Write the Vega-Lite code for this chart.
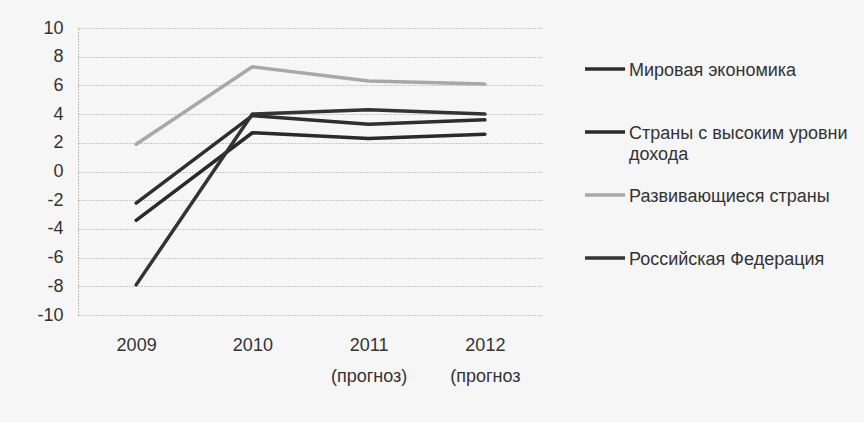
{
  "$schema": "https://vega.github.io/schema/vega-lite/v6.json",
  "autosize": "none",
  "width": 465,
  "height": 287,
  "padding": {"left": 78, "top": 28, "right": 321, "bottom": 107},
  "background": "#f6f6f6",
  "data": {
    "values": [
      {"period": "2009", "series": "Мировая экономика", "value": -2.2},
      {"period": "2010", "series": "Мировая экономика", "value": 3.9},
      {"period": "2011 (прогноз)", "series": "Мировая экономика", "value": 3.3},
      {"period": "2012 (прогноз", "series": "Мировая экономика", "value": 3.6},
      {"period": "2009", "series": "Страны с высоким уровни дохода", "value": -3.4},
      {"period": "2010", "series": "Страны с высоким уровни дохода", "value": 2.7},
      {"period": "2011 (прогноз)", "series": "Страны с высоким уровни дохода", "value": 2.3},
      {"period": "2012 (прогноз", "series": "Страны с высоким уровни дохода", "value": 2.6},
      {"period": "2009", "series": "Развивающиеся страны", "value": 1.9},
      {"period": "2010", "series": "Развивающиеся страны", "value": 7.3},
      {"period": "2011 (прогноз)", "series": "Развивающиеся страны", "value": 6.3},
      {"period": "2012 (прогноз", "series": "Развивающиеся страны", "value": 6.1},
      {"period": "2009", "series": "Российская Федерация", "value": -7.9},
      {"period": "2010", "series": "Российская Федерация", "value": 4.0},
      {"period": "2011 (прогноз)", "series": "Российская Федерация", "value": 4.3},
      {"period": "2012 (прогноз", "series": "Российская Федерация", "value": 4.0}
    ]
  },
  "mark": {"type": "line", "strokeCap": "round", "strokeJoin": "round"},
  "encoding": {
    "x": {
      "field": "period",
      "type": "ordinal",
      "sort": null,
      "scale": {"type": "point", "padding": 0.5},
      "axis": {
        "title": null,
        "labelAngle": 0,
        "labelExpr": "split(datum.label, ' ')",
        "labelFont": "Liberation Sans",
        "labelFontSize": 18,
        "labelColor": "#333",
        "labelLineHeight": 31,
        "labelBaseline": "top",
        "labelPadding": 21,
        "ticks": false,
        "domain": false,
        "grid": false
      }
    },
    "y": {
      "field": "value",
      "type": "quantitative",
      "scale": {"domain": [-10, 10], "nice": false},
      "axis": {
        "title": null,
        "values": [-10, -8, -6, -4, -2, 0, 2, 4, 6, 8, 10],
        "labelExpr": "replace(datum.label, '−', '-')",
        "labelFont": "Liberation Sans",
        "labelFontSize": 18,
        "labelColor": "#333",
        "labelPadding": 15,
        "ticks": false,
        "domain": true,
        "domainColor": "#888",
        "domainDash": [1, 2],
        "gridColor": "#999",
        "gridDash": [1, 2],
        "gridWidth": 1
      }
    },
    "color": {
      "field": "series",
      "type": "nominal",
      "scale": {
        "domain": ["Мировая экономика", "Страны с высоким уровни дохода", "Развивающиеся страны", "Российская Федерация"],
        "range": ["#2e2e2e", "#2a2a2a", "#a8a8a8", "#333333"]
      },
      "legend": {
        "title": null,
        "orient": "none",
        "legendX": 505,
        "legendY": 19,
        "symbolType": "stroke",
        "symbolSize": 1600,
        "symbolStrokeWidth": 3,
        "labelFont": "Liberation Sans",
        "labelFontSize": 18,
        "labelColor": "#333",
        "labelLimit": 300,
        "labelOffset": 2,
        "rowPadding": 9,
        "labelExpr": "datum.label == 'Страны с высоким уровни дохода' ? ['Страны с высоким уровни', 'дохода'] : [datum.label, ' ']",
        "encode": {
          "labels": {"update": {"lineHeight": {"value": 21}, "dy": {"value": 2}}},
          "symbols": {"update": {"strokeWidth": {"signal": "datum.value == 'Развивающиеся страны' ? 2 : 3.5"}}}
        }
      }
    },
    "strokeWidth": {
      "field": "series",
      "type": "nominal",
      "scale": {
        "domain": ["Мировая экономика", "Страны с высоким уровни дохода", "Развивающиеся страны", "Российская Федерация"],
        "range": [3.5, 3.5, 2, 3.5]
      },
      "legend": null
    }
  },
  "config": {"view": {"stroke": null}}
}
